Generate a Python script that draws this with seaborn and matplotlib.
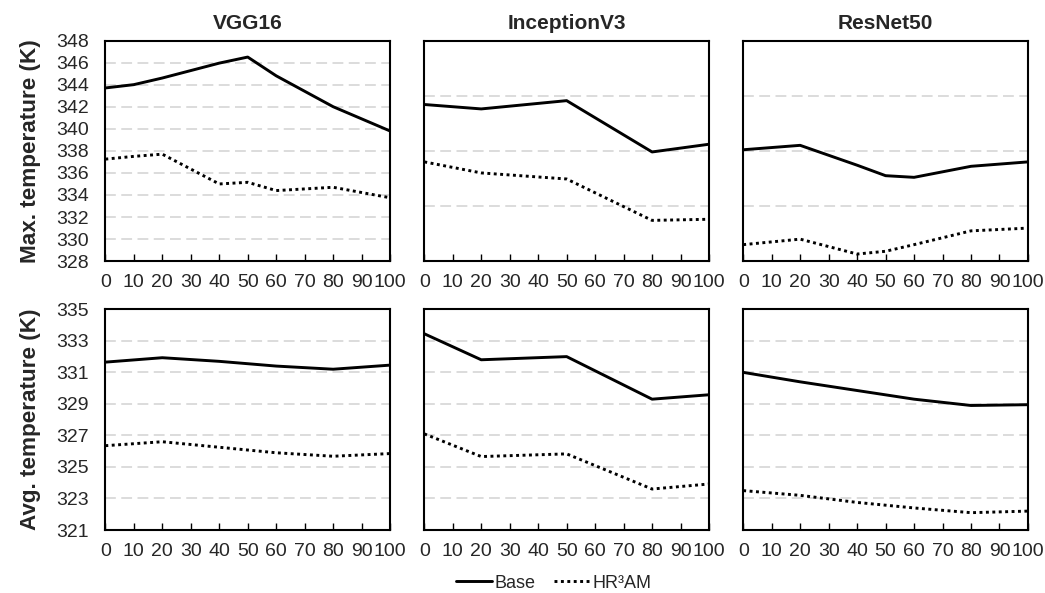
import matplotlib
matplotlib.use("Agg")
import matplotlib.pyplot as plt
import seaborn as sns
import pandas as pd

# ---- data -------------------------------------------------------------
models = ["VGG16", "InceptionV3", "ResNet50"]
series_names = ["Base", "HR³AM"]

# Max. temperature (K)
vgg_max_x = [0, 10, 20, 40, 50, 60, 80, 100]
vgg_max_base = [343.7, 344.0, 344.6, 345.95, 346.5, 344.8, 342.0, 339.8]
vgg_max_hr = [337.25, 337.5, 337.7, 335.0, 335.15, 334.4, 334.7, 333.75]

inc_max_x = [0, 20, 50, 80, 100]
inc_max_base = [342.2, 341.8, 342.55, 337.9, 338.6]
inc_max_hr = [337.0, 336.0, 335.45, 331.7, 331.8]

res_max_x = [0, 20, 40, 50, 60, 80, 100]
res_max_base = [338.1, 338.5, 336.7, 335.75, 335.6, 336.6, 337.0]
res_max_hr = [329.5, 330.0, 328.65, 328.9, 329.5, 330.75, 331.0]

# Avg. temperature (K)
vgg_avg_x = [0, 20, 40, 60, 80, 100]
vgg_avg_base = [331.65, 331.93, 331.7, 331.4, 331.2, 331.46]
vgg_avg_hr = [326.35, 326.6, 326.25, 325.9, 325.68, 325.85]

inc_avg_x = [0, 20, 50, 80, 100]
inc_avg_base = [333.45, 331.8, 332.0, 329.3, 329.58]
inc_avg_hr = [327.1, 325.66, 325.83, 323.6, 323.92]

res_avg_x = [0, 20, 40, 60, 80, 100]
res_avg_base = [331.0, 330.4, 329.85, 329.3, 328.9, 328.95]
res_avg_hr = [323.5, 323.2, 322.75, 322.4, 322.1, 322.2]

x_ticks = list(range(0, 101, 10))
max_ylim = (328, 348)
avg_ylim = (321, 335)
max_ticks_left = list(range(328, 349, 2))
max_ticks_other = list(range(328, 349, 5))
avg_ticks = list(range(321, 336, 2))

row_labels = ["Max. temperature (K)", "Avg. temperature (K)"]

panels = [
    [(vgg_max_x, vgg_max_base, vgg_max_hr),
     (inc_max_x, inc_max_base, inc_max_hr),
     (res_max_x, res_max_base, res_max_hr)],
    [(vgg_avg_x, vgg_avg_base, vgg_avg_hr),
     (inc_avg_x, inc_avg_base, inc_avg_hr),
     (res_avg_x, res_avg_base, res_avg_hr)],
]

# ---- style ------------------------------------------------------------
sns.set_theme(style="white")
plt.rcParams["font.family"] = ["Liberation Sans", "DejaVu Sans"]

fig, axes = plt.subplots(2, 3, figsize=(10.45, 5.93), dpi=100)
fig.subplots_adjust(left=0.1008, right=0.9837, top=0.9317, bottom=0.1062,
                    wspace=0.12, hspace=0.218)

palette = {"Base": "black", "HR³AM": "black"}
dashes = {"Base": "", "HR³AM": (1, 1.2)}

for r in range(2):
    for c in range(3):
        ax = axes[r, c]
        xs, base, hr = panels[r][c]
        df = pd.DataFrame({
            "x": list(xs) * 2,
            "y": list(base) + list(hr),
            "series": ["Base"] * len(xs) + ["HR³AM"] * len(xs),
        })
        sns.lineplot(data=df, x="x", y="y", hue="series", style="series",
                     palette=palette, dashes=dashes, linewidth=2.1,
                     legend=False, ax=ax, zorder=3)

        ax.set_xlim(0, 100)
        ax.set_xticks(x_ticks)
        ax.set_xticklabels([str(v) for v in x_ticks], fontsize=14)
        ax.tick_params(axis="x", direction="in", length=5, width=1,
                       color="black", pad=9, bottom=True)
        if r == 0:
            ax.set_ylim(*max_ylim)
            ax.set_yticks(max_ticks_left if c == 0 else max_ticks_other)
        else:
            ax.set_ylim(*avg_ylim)
            ax.set_yticks(avg_ticks)
        ax.tick_params(axis="y", length=0, pad=12, labelsize=14)
        if c != 0:
            ax.set_yticklabels([])
            ax.set_ylabel("")
        else:
            ax.set_ylabel(row_labels[r], fontsize=16.2, fontweight="bold",
                          labelpad=11)
        ax.set_xlabel("")

        ax.yaxis.grid(True, color="#d9d9d9", linewidth=1.3,
                      linestyle=(0, (6, 3)))
        ax.xaxis.grid(False)
        for sp in ax.spines.values():
            sp.set_visible(True)
            sp.set_color("black")
            sp.set_linewidth(1.5)

        if r == 0:
            ax.set_title(models[c], fontsize=15, fontweight="bold", pad=8)

# legend built from the plotted line styles
h_base = plt.Line2D([], [], color="black", linewidth=2.1)
h_hr = plt.Line2D([], [], color="black", linewidth=2.1,
                  linestyle=(0, (1, 1.2)))
fig.legend([h_base, h_hr], series_names, loc="center", ncol=2,
           bbox_to_anchor=(554 / 1045, 1 - 583 / 593), frameon=False,
           fontsize=13, handlelength=2.0, handletextpad=0.15,
           columnspacing=1.0)

fig.savefig("out.png", dpi=100)
